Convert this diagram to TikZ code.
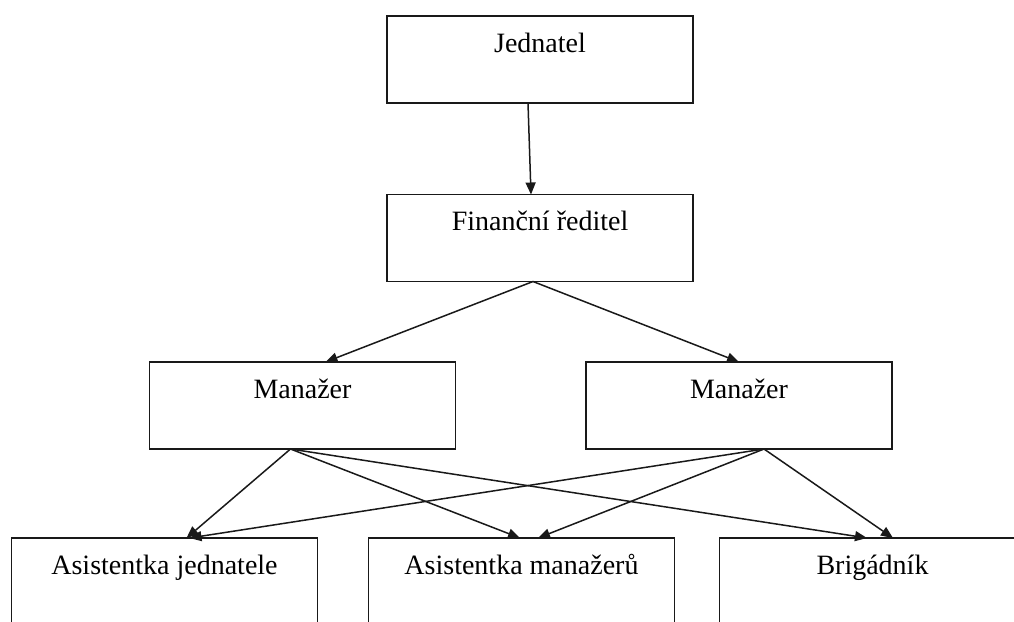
\documentclass[tikz,border=0pt]{standalone}
\usepackage{fontspec}
\setmainfont{Liberation Serif}
\usetikzlibrary{arrows.meta}
\begin{document}
\begin{tikzpicture}[x=1pt,y=-1pt,
  box/.style={draw=black!90, line width=1.5pt, minimum width=306pt, minimum height=87pt, inner sep=0pt, outer sep=0pt},
  lbl/.style={font=\fontsize{28}{30}\selectfont, anchor=base, yshift=-36pt, inner sep=0pt},
  conn/.style={draw=black!90, line width=1.5pt, -{Triangle[length=12pt,width=10pt]}}]
\useasboundingbox (0,0) rectangle (1014,621);
\node[box, label={[lbl]north:Jednatel}] (j) at (540,59.5) {};
\node[box, label={[lbl]north:Finanční ředitel}] (f) at (540,238) {};
\node[box, label={[lbl]north:Manažer}] (m1) at (302.5,405.5) {};
\node[box, label={[lbl]north:Manažer}] (m2) at (739,405.5) {};
\node[box, label={[lbl]north:Asistentka jednatele}] (a1) at (164.5,581.5) {};
\node[box, label={[lbl]north:Asistentka manažerů}] (a2) at (521.5,581.5) {};
\node[box, label={[lbl]north:Brigádník}] (b) at (872.5,581.5) {};
\draw[conn] ([xshift=-12pt]j.south) -- ([xshift=-9pt]f.north);
\draw[conn] ([xshift=-7pt]f.south) -- ([xshift=23pt]m1.north);
\draw[conn] ([xshift=-7pt]f.south) -- ([xshift=0pt]m2.north);
\draw[conn] ([xshift=-12pt]m1.south) -- ([xshift=22pt]a1.north);
\draw[conn] ([xshift=-12pt]m1.south) -- ([xshift=-1.5pt]a2.north);
\draw[conn] ([xshift=-12pt]m1.south) -- ([xshift=-5.5pt]b.north);
\draw[conn] ([xshift=25pt]m2.south) -- ([xshift=25pt]a1.north);
\draw[conn] ([xshift=25pt]m2.south) -- ([xshift=16.5pt]a2.north);
\draw[conn] ([xshift=25pt]m2.south) -- ([xshift=20.5pt]b.north);
\end{tikzpicture}
\end{document}
